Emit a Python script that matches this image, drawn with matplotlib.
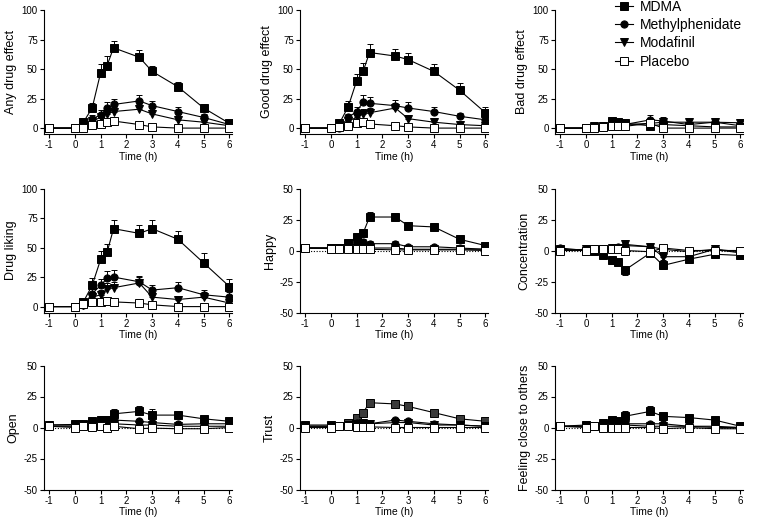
import numpy as np
import matplotlib
matplotlib.use("Agg")
import matplotlib.pyplot as plt

plt.rcParams['font.family'] = ['Liberation Sans', 'DejaVu Sans']
plt.rcParams['axes.unicode_minus'] = False

# --- data ---
time_h = [-1, 0, 0.33, 0.67, 1, 1.25, 1.5, 2.5, 3, 4, 5, 6]
groups = ['MDMA', 'Methylphenidate', 'Modafinil', 'Placebo']

any_effect = {
    'MDMA':            [0, 0, 5, 17, 47, 53, 68, 60, 48, 35, 17, 4],
    'Methylphenidate': [0, 0, 1, 8, 11, 17, 20, 23, 19, 14, 9, 3],
    'Modafinil':       [0, 0, 1, 6, 9, 12, 14, 16, 12, 7, 5, 2],
    'Placebo':         [0, 0, 0.5, 3, 3.5, 5, 6, 3, 1, 0, 0, 0],
}
any_effect_sem = {
    'MDMA':            [0, 0, 2, 4, 7, 8, 6, 6, 5, 4, 3, 2],
    'Methylphenidate': [0, 0, 1, 3, 4, 5, 5, 5, 4, 4, 3, 2],
    'Modafinil':       [0, 0, 1, 3, 4, 4, 4, 4, 3, 3, 2, 1],
    'Placebo':         [0, 0, 0.5, 1, 1, 1, 2, 1, 1, 0, 0, 0],
}
good_effect = {
    'MDMA':            [0, 0, 4, 18, 40, 48, 64, 61, 58, 48, 32, 13],
    'Methylphenidate': [0, 0, 0, 9, 14, 22, 21, 19, 17, 14, 10, 7],
    'Modafinil':       [0, 0, 1, 6, 9, 12, 13, 17, 8, 5, 3, 2],
    'Placebo':         [0, 0, 1, 2, 4, 5, 3.5, 2, 1, 0, 0, 0],
}
good_effect_sem = {
    'MDMA':            [0, 0, 2, 5, 6, 7, 7, 6, 6, 6, 6, 5],
    'Methylphenidate': [0, 0, 1, 3, 4, 6, 5, 5, 5, 4, 3, 3],
    'Modafinil':       [0, 0, 1, 3, 4, 4, 4, 4, 3, 2, 2, 1],
    'Placebo':         [0, 0, 0.5, 1, 1, 1, 1, 1, 1, 0, 0, 0],
}
bad_effect = {
    'MDMA':            [0, 0, 1, 2, 6, 5.5, 4, 2, 3, 2, 1, 1],
    'Methylphenidate': [0, 0, 1, 2, 3, 3, 3, 7, 6, 3, 5, 2],
    'Modafinil':       [0, 0, 2, 1, 2, 2, 3, 4, 5, 5, 5, 4.5],
    'Placebo':         [0, 0, 0, 1, 1.5, 1.5, 1.5, 4, 0, 0, 0, 0],
}
bad_effect_sem = {
    'MDMA':            [0, 0, 1, 1, 2, 2, 2, 1, 2, 1, 1, 1],
    'Methylphenidate': [0, 0, 1, 1, 2, 2, 2, 4, 3, 2, 2, 2],
    'Modafinil':       [0, 0, 2, 1, 1, 1, 2, 2, 3, 3, 3, 3],
    'Placebo':         [0, 0, 0, 1, 1, 1, 1, 2, 0, 0, 0, 0],
}
drug_liking = {
    'MDMA':            [0, 0, 4, 18, 40, 46, 66, 62, 66, 57, 37, 17],
    'Methylphenidate': [0, 0, 1, 11, 18, 24, 25, 21, 14, 16, 10, 8],
    'Modafinil':       [0, 0, 1, 8, 10, 15, 16, 20, 8, 6, 8, 3],
    'Placebo':         [0, 0, 2, 4, 4, 5, 4, 3, 1.5, 0, 0, 0],
}
drug_liking_sem = {
    'MDMA':            [0, 0, 2, 6, 7, 7, 7, 7, 7, 7, 8, 6],
    'Methylphenidate': [0, 0, 1, 4, 5, 6, 6, 5, 4, 5, 4, 4],
    'Modafinil':       [0, 0, 1, 4, 4, 5, 5, 5, 3, 3, 4, 2],
    'Placebo':         [0, 0, 1, 1, 1, 1, 1, 1, 1, 0, 0, 0],
}
happy = {
    'MDMA':            [2, 2, 2, 6, 11, 14, 27, 27, 20, 19, 9, 4],
    'Methylphenidate': [2, 2, 2, 3, 6, 7, 5.5, 5.5, 3, 3, 2, 1],
    'Modafinil':       [2, 2, 2, 2, 4, 3, 2, 2, 1, 1, 1, 1],
    'Placebo':         [2, 1.5, 1.5, 1.5, 1.5, 1, 1, 0.5, 0.5, 0.5, 0.5, 0],
}
happy_sem = {
    'MDMA':            [1, 1, 1, 2, 3, 3, 4, 3, 3, 3, 2, 2],
    'Methylphenidate': [1, 1, 1, 1, 2, 2, 2, 2, 1, 1, 1, 1],
    'Modafinil':       [1, 1, 1, 1, 1, 1, 1, 1, 1, 1, 1, 1],
    'Placebo':         [1, 1, 1, 1, 1, 1, 1, 1, 1, 1, 1, 1],
}
concentration = {
    'MDMA':            [1, 0, 0, -4, -8, -9, -16, -2, -12, -7, -3, -4],
    'Methylphenidate': [2, 0, 1, 1, 2, 3, 4, 3, 1, -1, 1, -2],
    'Modafinil':       [0, 1, 1, 1, 2, 2, 5, 3, -5, -5, 1, -1],
    'Placebo':         [0, 0, 1, 1, 1, 1, 0, -1, 2, 0, 0, 0],
}
concentration_sem = {
    'MDMA':            [2, 1, 1, 2, 3, 3, 4, 3, 3, 3, 2, 2],
    'Methylphenidate': [1, 1, 1, 1, 2, 2, 2, 2, 2, 2, 1, 1],
    'Modafinil':       [1, 1, 1, 1, 2, 2, 2, 2, 3, 2, 1, 1],
    'Placebo':         [1, 1, 1, 1, 1, 1, 1, 1, 1, 1, 1, 1],
}
open_ = {
    'MDMA':            [2, 2.5, 3, 5, 6, 6, 11, 13, 10, 10, 7, 5],
    'Methylphenidate': [2, 2, 2, 4, 5, 5, 6, 5, 4, 2.5, 3, 3],
    'Modafinil':       [1, 1, 2, 2, 3, 3, 3, 2, 2, 1, 1, 1],
    'Placebo':         [1, 0, 1, 0.5, 1, 0, 1, -1, -0.5, -1, -1, 0],
}
open_sem = {
    'MDMA':            [1, 1, 1, 2, 3, 3, 4, 4, 5, 3, 2, 1],
    'Methylphenidate': [1, 1, 1, 1, 2, 2, 2, 2, 2, 1, 1, 1],
    'Modafinil':       [1, 1, 1, 1, 1, 1, 1, 1, 1, 1, 1, 1],
    'Placebo':         [1, 1, 1, 1, 1, 1, 1, 1, 1, 1, 1, 1],
}
trust = {
    'MDMA':            [2, 2, 1, 4, 8, 12, 20, 19, 17, 12, 7, 5],
    'Methylphenidate': [1, 1, 1, 2, 4, 4, 3, 6, 5, 3, 2, 1],
    'Modafinil':       [1, 1, 1, 2, 3, 4, 3, 4, 4, 2, 2, 1],
    'Placebo':         [0, 0, 1, 1, 0.5, 0.5, 0.5, 0, 0, 0, 0, 0],
}
trust_sem = {
    'MDMA':            [1, 1, 1, 1, 2, 3, 3, 3, 3, 2, 2, 1],
    'Methylphenidate': [1, 1, 1, 1, 1, 1, 1, 2, 2, 1, 1, 1],
    'Modafinil':       [1, 1, 1, 1, 1, 1, 1, 2, 1, 1, 1, 1],
    'Placebo':         [1, 1, 1, 1, 1, 1, 1, 1, 1, 1, 1, 1],
}
feeling_close = {
    'MDMA':            [1, 2, 1, 4, 6, 5.5, 9, 13, 9, 8, 6, 1],
    'Methylphenidate': [1, 1, 1, 2, 5, 4, 3, 3, 3, 1, 1, 0],
    'Modafinil':       [1, 1, 1, 1, 2, 2, 2, 1, 1, 1, 0, 0],
    'Placebo':         [1, 0, 1, 0, 0, 0, 0, 0, -1, 0, -1, -1],
}
feeling_close_sem = {
    'MDMA':            [1, 1, 1, 1, 2, 2, 4, 4, 3, 3, 2, 1],
    'Methylphenidate': [1, 1, 1, 1, 1, 1, 1, 1, 1, 1, 1, 1],
    'Modafinil':       [1, 1, 1, 1, 1, 1, 1, 1, 1, 1, 1, 1],
    'Placebo':         [1, 1, 1, 1, 1, 1, 1, 1, 1, 1, 1, 1],
}

panels = [
    ('Any drug effect', any_effect, any_effect_sem, 'vas'),
    ('Good drug effect', good_effect, good_effect_sem, 'vas'),
    ('Bad drug effect', bad_effect, bad_effect_sem, 'vas'),
    ('Drug liking', drug_liking, drug_liking_sem, 'vas'),
    ('Happy', happy, happy_sem, 'bip'),
    ('Concentration', concentration, concentration_sem, 'bip'),
    ('Open', open_, open_sem, 'bip'),
    ('Trust', trust, trust_sem, 'bip'),
    ('Feeling close to others', feeling_close, feeling_close_sem, 'bip'),
]

# marker styles per group
style = {
    'MDMA':            dict(marker='s', mfc='black', ms=5.2),
    'Methylphenidate': dict(marker='o', mfc='black', ms=5.2),
    'Modafinil':       dict(marker='v', mfc='black', ms=5.6),
    'Placebo':         dict(marker='s', mfc='white', ms=5.2),
}

W, H = 764, 519
fig = plt.figure(figsize=(W / 100, H / 100), dpi=100)

col_left = [44, 300, 555]
row_top = [10, 188.5, 365.5]
ax_w, ax_h = 188, 124

handles = []
for i, (label, data, sem, kind) in enumerate(panels):
    r, c = divmod(i, 3)
    ax = fig.add_axes([col_left[c] / W, 1 - (row_top[r] + ax_h) / H, ax_w / W, ax_h / H])
    if kind == 'bip':
        ax.plot([-1, 6], [0, 0], color='black', lw=0.8, ls=(0, (1, 1.5)), zorder=1)
    for g in groups:
        y = np.array(data[g], dtype=float)
        e = np.array(sem[g], dtype=float)
        up = np.where(y >= 0, e, 0)
        down = np.where(y < 0, e, 0)
        mcol = '#3a3a3a' if (label == 'Trust' and g == 'MDMA') else None
        ax.errorbar(time_h, y, yerr=[down, up], fmt='none', ecolor='black',
                    elinewidth=0.7, capsize=2.2, capthick=0.7, zorder=2)
        st = dict(style[g])
        if mcol is not None:
            st['mfc'] = mcol
        ln, = ax.plot(time_h, y, color='black', lw=0.8, mec='black', mew=0.7,
                      zorder=3, label=g, **st)
        if i == 0:
            handles.append(ln)
    ax.set_xlim(-1.2, 6.1)
    ax.set_xticks(range(-1, 7))
    if kind == 'vas':
        ax.set_ylim(-5, 100)
        ax.set_yticks([0, 25, 50, 75, 100])
    else:
        ax.set_ylim(-50, 50)
        ax.set_yticks([-50, -25, 0, 25, 50])
    for s in ['top', 'right']:
        ax.spines[s].set_visible(False)
    for s in ['left', 'bottom']:
        ax.spines[s].set_linewidth(0.8)
    ax.tick_params(labelsize=7, length=3, width=0.8, pad=1.5)
    ax.set_xlabel('Time (h)', fontsize=7.5, labelpad=1)
    ax.set_ylabel(label, fontsize=9, labelpad=3)

fig.legend(handles, groups, loc='upper left', bbox_to_anchor=(615 / W, 1.0),
           frameon=False, fontsize=10, handlelength=1.3, handletextpad=0.5,
           labelspacing=0.3, borderaxespad=0, borderpad=0)

fig.savefig('out.png', dpi=100)
